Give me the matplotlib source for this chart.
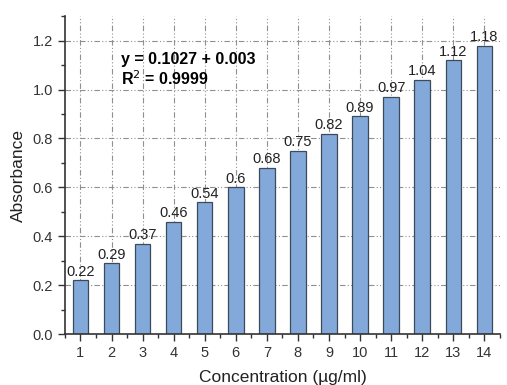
import matplotlib
matplotlib.use('Agg')
import matplotlib.pyplot as plt
from matplotlib.ticker import MultipleLocator

plt.rcParams['font.family'] = ['Liberation Sans', 'DejaVu Sans']

CONCENTRATION = [1, 2, 3, 4, 5, 6, 7, 8, 9, 10, 11, 12, 13, 14]
ABSORBANCE = [0.22, 0.29, 0.37, 0.46, 0.54, 0.6, 0.68, 0.75, 0.82, 0.89, 0.97, 1.04, 1.12, 1.18]
BAR_LABELS = ['0.22', '0.29', '0.37', '0.46', '0.54', '0.6', '0.68', '0.75', '0.82', '0.89',
              '0.97', '1.04', '1.12', '1.18']

fig = plt.figure(figsize=(5.07, 3.85), dpi=100)
ax = fig.add_axes([0.128, 0.132, 0.858, 0.826])

grid_dash = (0, (5, 2, 1, 2, 1, 2))
for x in CONCENTRATION:
    ax.axvline(x, color='#909090', lw=0.8, ls=grid_dash, zorder=0)
for yv in [0.2, 0.4, 0.6, 0.8, 1.0, 1.2]:
    ax.axhline(yv, color='#909090', lw=0.8, ls=grid_dash, zorder=0)

bars = ax.bar(CONCENTRATION, ABSORBANCE, width=0.5, color='#82a9d9',
              edgecolor='#3d4a5a', linewidth=0.9, zorder=2)
for b, lab in zip(bars, BAR_LABELS):
    ax.text(b.get_x() + b.get_width() / 2, b.get_height() + 0.006, lab,
            ha='center', va='bottom', fontsize=10.5, color='#222222', zorder=3)

ax.set_xlim(0.5, 14.5)
ax.set_ylim(0, 1.3)
ax.set_xticks(CONCENTRATION)
ax.set_yticks([0.0, 0.2, 0.4, 0.6, 0.8, 1.0, 1.2])
ax.set_yticklabels(['0.0', '0.2', '0.4', '0.6', '0.8', '1.0', '1.2'])
ax.xaxis.set_minor_locator(MultipleLocator(0.5))
ax.yaxis.set_minor_locator(MultipleLocator(0.1))
ax.tick_params(which='major', direction='out', length=5, width=1, labelsize=10.5, colors='#333333')
ax.tick_params(which='minor', direction='out', length=3, width=1, colors='#333333')

for s in ['top', 'right']:
    ax.spines[s].set_visible(False)
for s in ['left', 'bottom']:
    ax.spines[s].set_linewidth(1.2)
    ax.spines[s].set_color('#333333')

ax.set_xlabel('Concentration (µg/ml)', fontsize=12.5, color='#222222', labelpad=7)
ax.set_ylabel('Absorbance', fontsize=12.5, color='#222222', labelpad=5)

ax.text(2.3, 1.105, 'y = 0.1027 + 0.003', fontsize=11.5, fontweight='bold', zorder=4)
ax.text(2.3, 1.02, 'R$^2$ = 0.9999', fontsize=11.5, fontweight='bold', zorder=4)

fig.savefig('out.png', dpi=100)
